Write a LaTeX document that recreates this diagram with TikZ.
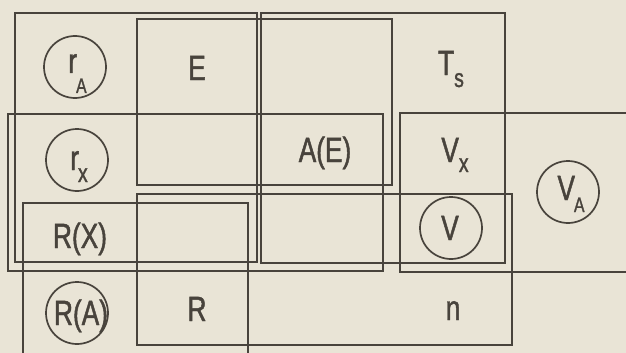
\documentclass[tikz,border=0pt]{standalone}
\usepackage{fontspec}
\setmainfont{Liberation Sans}[FakeStretch=0.75,FakeBold=1.3]
\definecolor{paper}{RGB}{233,228,214}
\definecolor{ink}{RGB}{72,67,60}
\tikzset{
  setbox/.style={draw=ink, line width=1.9pt},
  ring/.style={circle, draw=ink, line width=1.7pt, minimum size=62pt, inner sep=0pt},
  lbl/.style={text=ink, font=\fontsize{35}{40}\selectfont, inner sep=0pt, anchor=base},
}
\newcommand\capsub[2]{\raisebox{-#1pt}{\fontsize{21}{24}\selectfont #2}}
\newcommand\lowersub[2]{\raisebox{-#1pt}{\fontsize{26}{28}\selectfont #2}}
\begin{document}
\begin{tikzpicture}[x=1pt,y=-1pt]
\useasboundingbox (0,0) rectangle (626,353);
\fill[paper] (0,0) rectangle (626,353);
\begin{scope}
\clip (0,0) rectangle (626,353);
\draw[setbox] (15,13) rectangle (257,262);
\draw[setbox] (8,114) rectangle (383,271);
\draw[setbox] (137,19) rectangle (392,185);
\draw[setbox] (261,13) rectangle (505,263);
\draw[setbox] (400,113) rectangle (640,272);
\draw[setbox] (23,203) rectangle (248,362);
\draw[setbox] (137,194) rectangle (512,345);
\end{scope}
% circles
\node[ring] (cA) at (75,67) {};
\node[ring] (cX) at (77,160) {};
\node[ring] (cRA) at (77,313) {};
\node[ring] (cV) at (451,228) {};
\node[ring] (cVA) at (568,192) {};
% labels
\node[lbl] (rA) at (77.5,73) {r\kern-1pt\capsub{20}{A}};
\node[lbl] (rX) at (79,170) {r\kern-1pt\lowersub{12}{x}};
\node[lbl] (E) at (197,80) {E};
\node[lbl] (AE) at (325,162) {A(E)};
\node[lbl] (Ts) at (451,75) {T\lowersub{12}{s}};
\node[lbl] (Vx) at (455,162) {V\lowersub{10}{x}};
\node[lbl] (VA) at (571,200) {V\kern-1pt\capsub{12}{A}};
\node[lbl] (RX) at (80,248) {R(X)};
\node[lbl] (V) at (450,240) {V};
\node[lbl] (RA) at (81,325) {R(A)};
\node[lbl] (R) at (197,321) {R};
\node[lbl] (n) at (453,320) {n};
\end{tikzpicture}
\end{document}
